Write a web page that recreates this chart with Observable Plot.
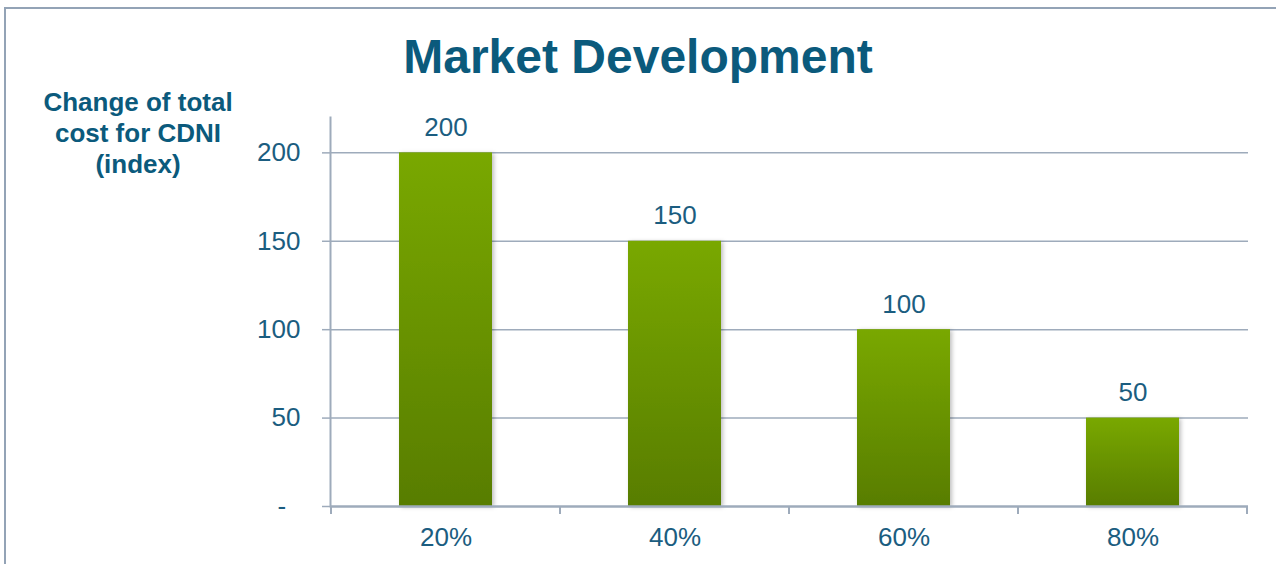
<!DOCTYPE html>
<html>
<head>
<meta charset="utf-8">
<script src="https://cdn.jsdelivr.net/npm/d3@7"></script>
<script src="https://cdn.jsdelivr.net/npm/@observablehq/plot@0.6"></script>
<style>
  html, body { margin: 0; padding: 0; background: #fff; }
  body { width: 1276px; height: 564px; overflow: hidden; position: relative; font-family: "Liberation Sans", Arial, sans-serif; }
  #frame { position: absolute; left: 4px; top: 7px; width: 1300px; height: 600px; border-left: 2px solid #93a3b6; border-top: 2px solid #93a3b6; box-sizing: border-box; }
  #title { position: absolute; left: 0; width: 1276px; top: 29px; text-align: center; font-weight: bold; font-size: 48px; line-height: 56px; color: #0b5a7c; }
  #ylabel { position: absolute; left: 28px; width: 220px; top: 87px; text-align: center; font-weight: bold; font-size: 26px; line-height: 31px; color: #0b5a7c; }
  #chart { position: absolute; left: 0; top: 0; }
</style>
</head>
<body>
<div id="frame"></div>
<div id="chart"></div>
<div id="title">Market Development</div>
<div id="ylabel">Change of total<br>cost for CDNI<br>(index)</div>
<script>
const categories = ["20%", "40%", "60%", "80%"];
const values = [200, 150, 100, 50];
const yTicks = [0, 50, 100, 150, 200];
const yTickLabels = ["-\u00a0\u00a0", "50", "100", "150", "200"];

const data = categories.map((c, i) => ({category: c, value: values[i]}));
const gridColor = "#9eabbb";
const textColor = "#1b5d80";

const boundaryTicks = (index, scales) => {
  const x = scales.x, y = scales.y;
  const step = x(categories[1]) - x(categories[0]);
  const pad = (step - x.bandwidth()) / 2;
  const y0 = y(0);
  const g = d3.create("svg:g");
  const xs = categories.map(c => x(c) - pad).concat([x(categories[categories.length - 1]) + x.bandwidth() + pad]);
  g.selectAll("line").data(xs).join("line")
    .attr("x1", d => d).attr("x2", d => d)
    .attr("y1", y0).attr("y2", y0 + 8)
    .attr("stroke", gridColor).attr("stroke-width", 2);
  return g.node();
};

const chart = Plot.plot({
  width: 1276,
  height: 564,
  marginLeft: 330,
  marginRight: 28,
  marginTop: 117,
  marginBottom: 58,
  style: {fontFamily: "'Liberation Sans', Arial, sans-serif", fontSize: "26px", color: textColor, background: "transparent", overflow: "visible"},
  x: {domain: categories, paddingInner: 0.595, paddingOuter: 0.2975, label: null},
  y: {domain: [0, 220], label: null},
  marks: [
    () => {
      const svg = d3.create("svg:defs");
      const lg = svg.append("linearGradient").attr("id", "barGrad").attr("x1", 0).attr("y1", 0).attr("x2", 0).attr("y2", 1);
      lg.append("stop").attr("offset", "0%").attr("stop-color", "#79a803");
      lg.append("stop").attr("offset", "100%").attr("stop-color", "#587d00");
      const f = svg.append("filter").attr("id", "shadow").attr("x", "-20%").attr("y", "-20%").attr("width", "140%").attr("height", "140%");
      f.append("feDropShadow").attr("dx", 2).attr("dy", 1).attr("stdDeviation", 2).attr("flood-color", "#000").attr("flood-opacity", 0.25);
      return svg.node();
    },
    Plot.ruleY(yTicks.filter(d => d > 0), {stroke: gridColor, strokeWidth: 1.5, strokeOpacity: 1}),
    Plot.barY(data, {x: "category", y: "value", fill: "url(#barGrad)"}),
    Plot.frame({anchor: "left", stroke: gridColor, strokeWidth: 2}),
    Plot.ruleY([0], {stroke: gridColor, strokeWidth: 2.5}),
    Plot.axisY({ticks: yTicks, tickFormat: d => yTickLabels[yTicks.indexOf(d)], tickSize: 8, tickPadding: 22, stroke: gridColor, strokeWidth: 1.5, strokeOpacity: 1, fill: textColor, fontSize: 26, label: null}),
    Plot.axisX({tickSize: 0, tickPadding: 21, fill: textColor, fontSize: 26, label: null}),
    boundaryTicks,
    Plot.text(data, {x: "category", y: "value", text: d => String(d.value), lineAnchor: "bottom", dy: -17, fill: textColor, fontSize: 26})
  ]
});

chart.querySelectorAll("[aria-label='bar'] rect").forEach(r => r.setAttribute("filter", "url(#shadow)"));
document.getElementById("chart").appendChild(chart);
</script>
</body>
</html>
